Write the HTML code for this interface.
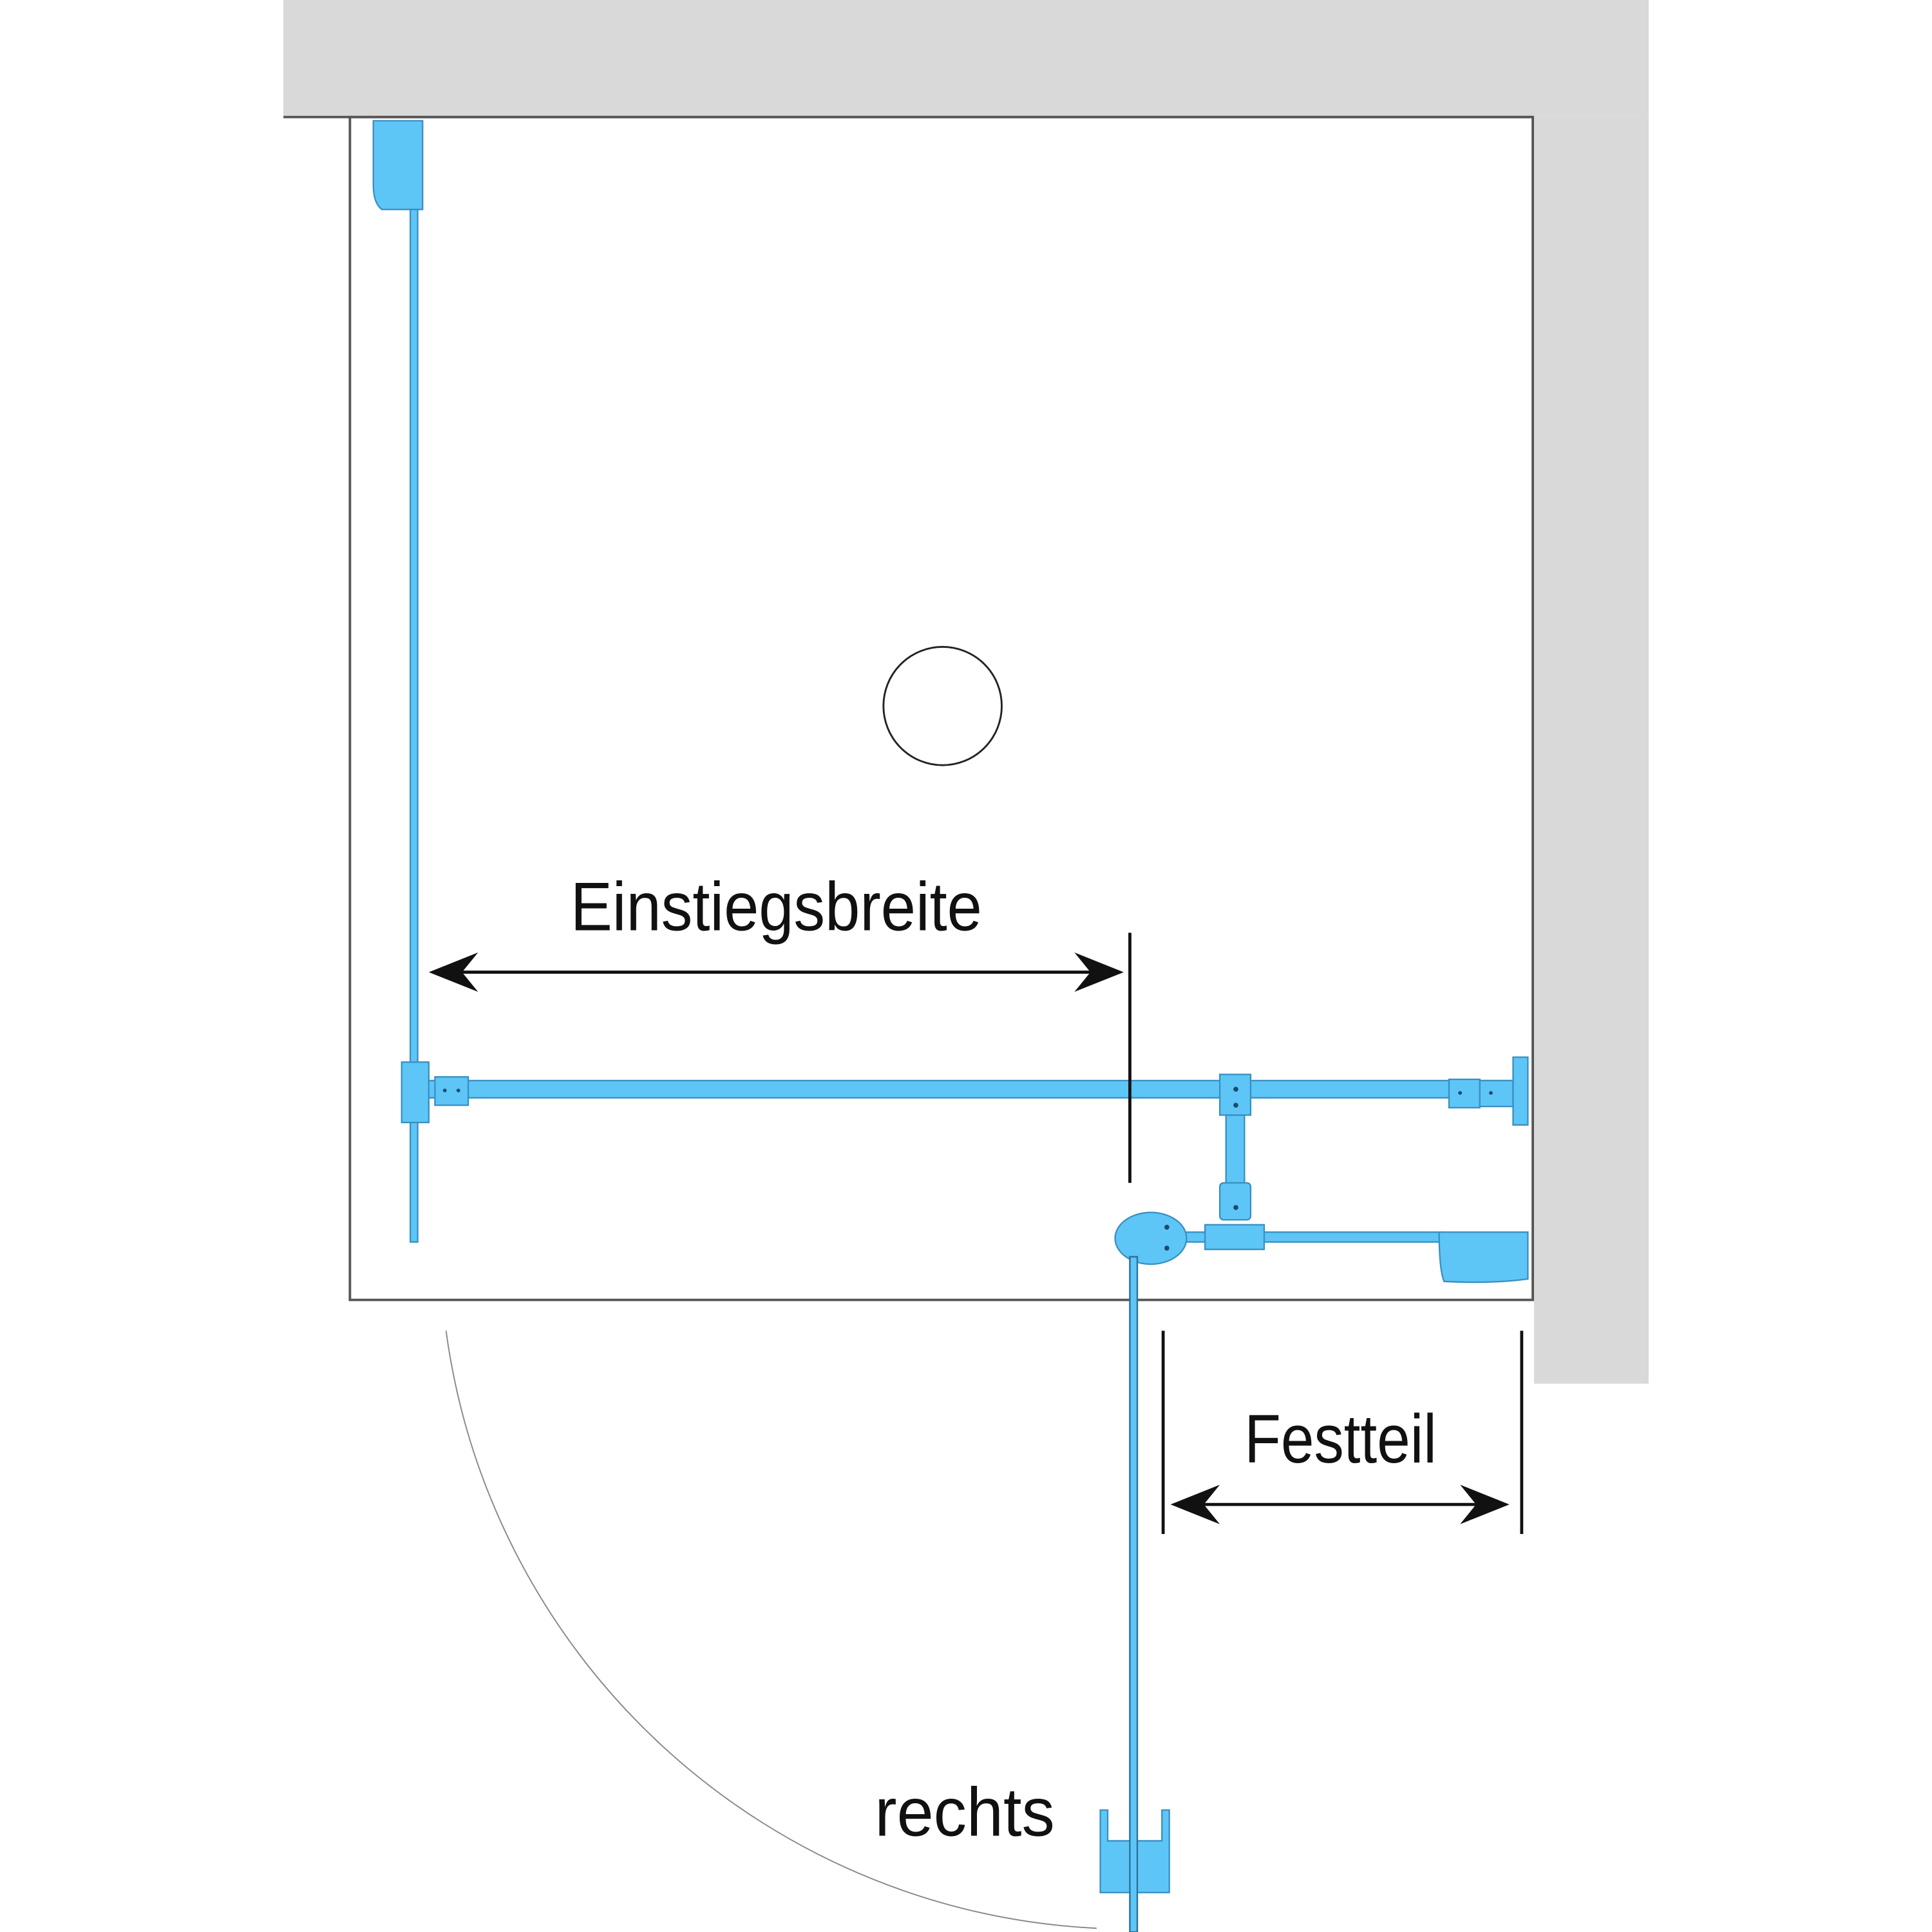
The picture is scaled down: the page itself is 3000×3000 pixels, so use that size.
<!DOCTYPE html>
<html><head><meta charset="utf-8"><style>
html,body{margin:0;padding:0;background:#fff;}
svg{display:block;}
</style></head><body>
<svg width="3000" height="3000" viewBox="0 0 1568 1568" xmlns="http://www.w3.org/2000/svg">
<rect width="1568" height="1568" fill="#fff"/>
<!-- walls -->
<rect x="230" y="0" width="1108" height="95" fill="#d9d9d9"/>
<rect x="1245" y="95" width="93" height="1028" fill="#d9d9d9"/>
<!-- tray outline -->
<path d="M284 95 H1244 V1055 H284 Z" fill="none" stroke="#555" stroke-width="2"/>
<line x1="230" y1="95" x2="1244" y2="95" stroke="#555" stroke-width="2"/>
<!-- drain -->
<circle cx="765" cy="573" r="48" fill="none" stroke="#222" stroke-width="1.5"/>
<!-- door swing arc -->
<path d="M362 1080 A561 561 0 0 0 890 1565" fill="none" stroke="#888" stroke-width="1"/>
<g fill="#5ec5f7" stroke="#3a8fc0" stroke-width="1.2">
<!-- left wall profile -->
<path d="M303 98 H343 V170 H310 Q303 165 303 150 Z"/>
<rect x="333" y="170" width="6" height="838"/>
<!-- main horizontal glass -->
<rect x="345" y="877" width="885" height="14"/>
<rect x="326" y="862" width="22" height="49"/>
<rect x="353" y="874" width="27" height="23"/>
<!-- center T -->
<rect x="995" y="905" width="15" height="57"/>
<rect x="990" y="872" width="25" height="33"/>
<rect x="990" y="960" width="25" height="30" rx="3"/>
<!-- right fittings -->
<rect x="1176" y="876" width="25" height="23"/>
<rect x="1201" y="877" width="27" height="21"/>
<rect x="1228" y="858" width="12" height="55"/>
<!-- lower bar -->
<rect x="960" y="1000" width="210" height="8"/>
<rect x="978" y="994" width="48" height="20"/>
<path d="M1168 1000 H1240 V1038 Q1210 1042 1172 1040 Q1168 1030 1168 1000 Z"/>
<!-- hinge -->
<ellipse cx="934" cy="1005" rx="29" ry="21"/>
<!-- door glass -->
<rect x="917" y="1020" width="6" height="548"/>
<!-- handle -->
<path d="M893 1469 H899 V1494 H943 V1469 H949 V1536 H893 Z"/>
</g>
<rect x="917" y="1020" width="6" height="548" fill="#5ec5f7" stroke="#2a6f99" stroke-width="1.2"/>
<g fill="#1a4a70">
<circle cx="1003" cy="884" r="2"/><circle cx="1003" cy="897" r="2"/>
<circle cx="1003" cy="980" r="2"/>
<circle cx="947" cy="996" r="2"/><circle cx="947" cy="1013" r="2"/>
<circle cx="361" cy="885" r="1.5"/><circle cx="372" cy="885" r="1.5"/>
<circle cx="1185" cy="887" r="1.5"/><circle cx="1210" cy="887" r="1.5"/>
</g>
<!-- dimension lines -->
<g stroke="#111" stroke-width="2.5" fill="none">
<line x1="917" y1="757" x2="917" y2="960"/>
<line x1="360" y1="789" x2="900" y2="789"/>
<line x1="944" y1="1080" x2="944" y2="1245"/>
<line x1="1235" y1="1080" x2="1235" y2="1245"/>
<line x1="962" y1="1221" x2="1212" y2="1221"/>
</g>
<g fill="#111">
<path d="M348 789 L388 773 L375 789 L388 805 Z"/>
<path d="M912 789 L872 773 L885 789 L872 805 Z"/>
<path d="M950 1221 L990 1205 L977 1221 L990 1237 Z"/>
<path d="M1225 1221 L1185 1205 L1198 1221 L1185 1237 Z"/>
</g>
<g font-family="'Liberation Sans', sans-serif" font-size="56" fill="#111">
<text x="463" y="755" textLength="334" lengthAdjust="spacingAndGlyphs">Einstiegsbreite</text>
<text x="1010" y="1187" textLength="156" lengthAdjust="spacingAndGlyphs">Festteil</text>
<text x="710" y="1490" textLength="146" lengthAdjust="spacingAndGlyphs">rechts</text>
</g>
</svg>
</body></html>
